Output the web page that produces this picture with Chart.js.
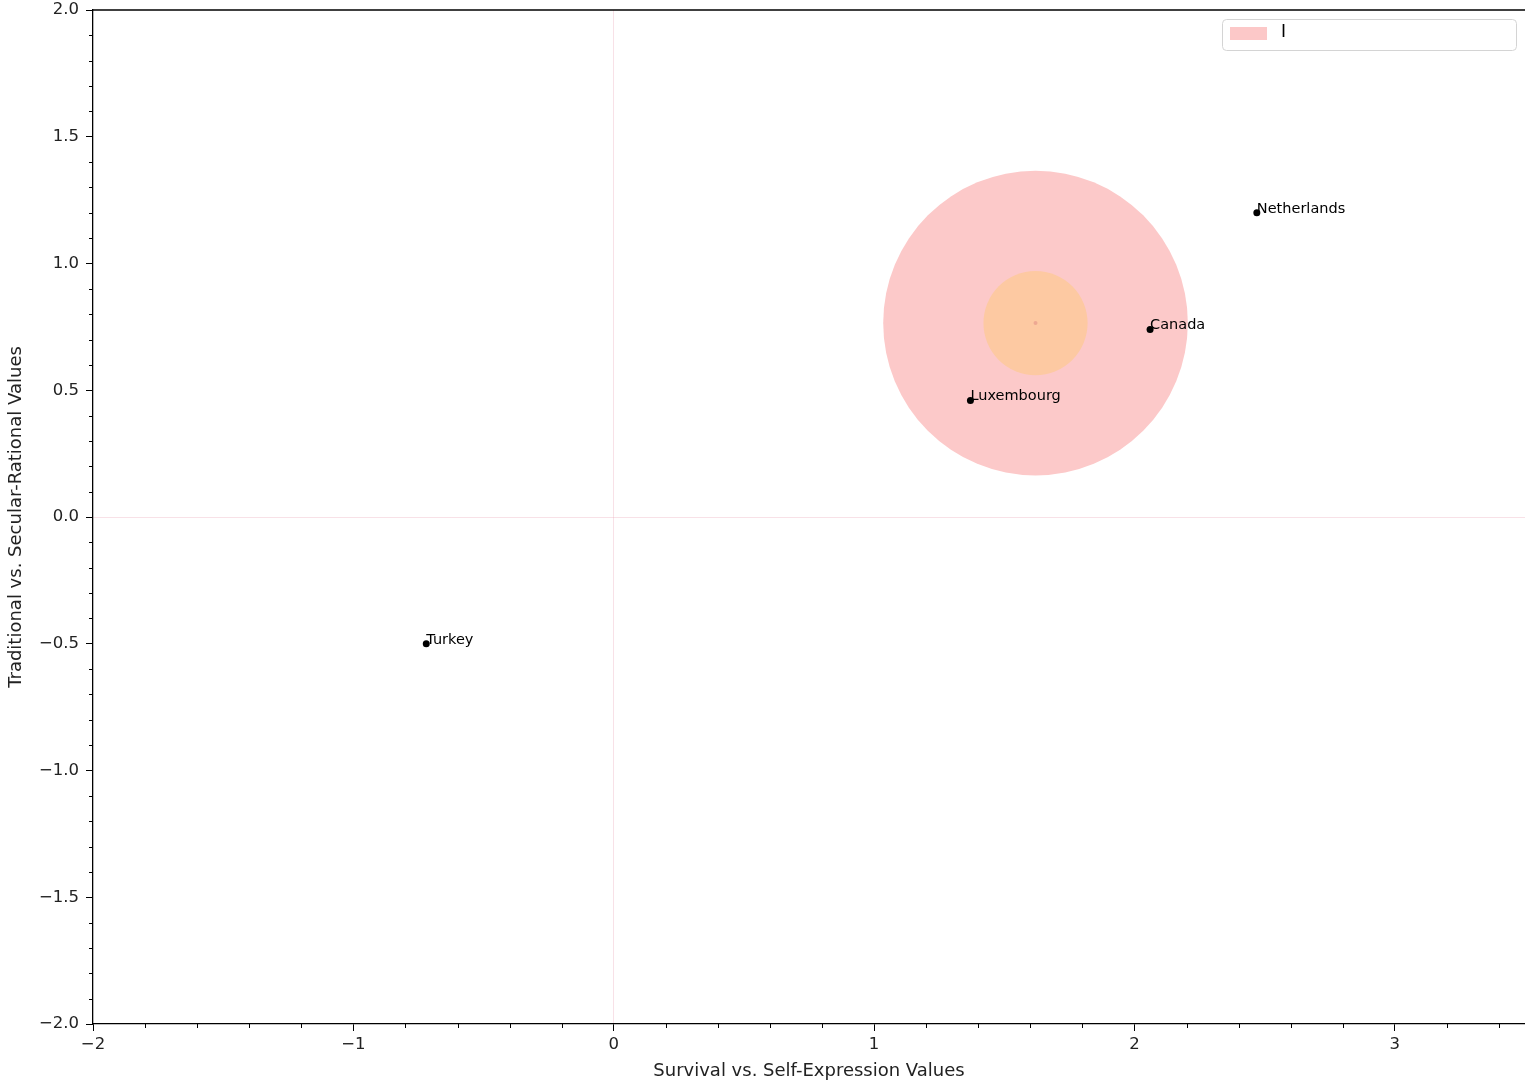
<!DOCTYPE html>
<html>
<head>
<meta charset="utf-8">
<script src="https://cdn.jsdelivr.net/npm/chart.js@4.4.1/dist/chart.umd.min.js"></script>
<style>
  html, body { margin: 0; padding: 0; background: #fff; overflow: hidden; }
  canvas { display: block; }
</style>
</head>
<body>
<canvas id="chart" width="1525" height="1088"></canvas>
<script>
// countries and their positions on the map
const countries = ['Netherlands', 'Canada', 'Luxembourg', 'Turkey'];
const survivalSelf = [2.47, 2.06, 1.37, -0.72];
const tradSecular = [1.20, 0.74, 0.46, -0.50];

// cluster circle: centre and radii (data units)
const clusterCentre = [1.62, 0.765];
const clusterRadii = [0.585, 0.2];
const clusterLabel = 'I';

const xTicks = [-2, -1, 0, 1, 2, 3];
const yTicks = [-2.0, -1.5, -1.0, -0.5, 0.0, 0.5, 1.0, 1.5, 2.0];

const FONT = "'DejaVu Sans', sans-serif";
const minus = v => (v < 0 ? '\u2212' : '') + Math.abs(v);

function radiusFor(r) {
    return ctx => {
        const xs = ctx.chart.scales.x;
        if (!xs) return 0;
        return Math.abs(xs.getPixelForValue(clusterCentre[0] + r) - xs.getPixelForValue(clusterCentre[0]));
    };
}

const extras = {
    id: 'extras',
    afterDatasetsDraw(chart) {
        const c = chart.ctx, xs = chart.scales.x, ys = chart.scales.y;
        c.save();
        // country names
        c.fillStyle = '#000';
        c.font = '14.5px ' + FONT;
        c.textAlign = 'left';
        c.textBaseline = 'alphabetic';
        countries.forEach((n, i) => {
            c.fillText(n, xs.getPixelForValue(survivalSelf[i]), ys.getPixelForValue(tradSecular[i]));
        });
        c.restore();
    },
    afterDraw(chart) {
        const c = chart.ctx, xs = chart.scales.x, ys = chart.scales.y, a = chart.chartArea;
        c.save();
        c.strokeStyle = '#000';
        c.lineWidth = 1;
        // minor ticks
        c.beginPath();
        for (let k = 0; k <= 27; k++) {
            const v = -2 + k * 0.2;
            if (Math.abs(v - Math.round(v)) < 1e-6) continue;
            const px = Math.round(xs.getPixelForValue(v)) + 0.5;
            c.moveTo(px, a.bottom); c.lineTo(px, a.bottom + 4);
        }
        for (let k = 0; k <= 40; k++) {
            const v = -2 + k * 0.1;
            if (Math.abs(v * 2 - Math.round(v * 2)) < 1e-6) continue;
            const py = Math.round(ys.getPixelForValue(v)) + 0.5;
            c.moveTo(a.left, py); c.lineTo(a.left - 4, py);
        }
        c.stroke();
        // top spine
        c.lineWidth = 1.3;
        c.beginPath();
        c.moveTo(a.left, a.top); c.lineTo(a.right, a.top);
        c.stroke();
        // legend
        const lx = a.right - 303, ly = a.top + 9, lw = 294, lh = 31;
        c.fillStyle = 'rgba(255,255,255,0.8)';
        c.strokeStyle = '#d4d4d4';
        c.lineWidth = 1;
        c.beginPath();
        c.roundRect(lx + 0.5, ly + 0.5, lw, lh, 4);
        c.fill(); c.stroke();
        c.fillStyle = '#fcc8c8';
        c.fillRect(lx + 8, ly + 8, 37, 13);
        c.fillStyle = '#000';
        c.font = '17px ' + FONT;
        c.textBaseline = 'middle';
        c.fillText(clusterLabel, lx + 59, ly + 14);
        c.restore();
    }
};

const zeroLine = ctx => (ctx.tick && ctx.tick.value === 0) ? 'rgba(235,170,185,0.35)' : 'rgba(0,0,0,0)';

new Chart(document.getElementById('chart'), {
    type: 'scatter',
    data: {
        datasets: [
            {
                label: 'countries',
                data: countries.map((n, i) => ({ x: survivalSelf[i], y: tradSecular[i] })),
                backgroundColor: '#000',
                borderWidth: 0,
                pointRadius: 3.5,
                order: 0
            },
            {
                label: 'centre',
                data: [{ x: clusterCentre[0], y: clusterCentre[1] }],
                backgroundColor: '#eda892',
                borderWidth: 0,
                pointRadius: 2,
                order: 1
            },
            {
                label: 'inner',
                data: [{ x: clusterCentre[0], y: clusterCentre[1] }],
                backgroundColor: '#fdc9a2',
                borderWidth: 0,
                pointRadius: radiusFor(clusterRadii[1]),
                order: 2
            },
            {
                label: clusterLabel,
                data: [{ x: clusterCentre[0], y: clusterCentre[1] }],
                backgroundColor: '#fcc9c9',
                borderWidth: 0,
                pointRadius: radiusFor(clusterRadii[0]),
                order: 3
            }
        ]
    },
    options: {
        responsive: false,
        animation: false,
        events: [],
        layout: { autoPadding: false, padding: { top: 10, right: 0, left: 0, bottom: 0 } },
        plugins: { legend: { display: false }, tooltip: { enabled: false } },
        scales: {
            x: {
                type: 'linear',
                min: -2, max: 3.5,
                afterFit: s => { s.height = 64; s.paddingLeft = 0; s.paddingRight = 0; },
                afterBuildTicks: s => { s.ticks = xTicks.map(v => ({ value: v })); },
                ticks: {
                    color: '#222',
                    font: { family: FONT, size: 16.5 },
                    padding: 4,
                    maxRotation: 0,
                    callback: v => minus(v)
                },
                grid: { color: zeroLine, lineWidth: 1, tickColor: '#000', tickLength: 7, tickWidth: 1 },
                border: { color: '#000', width: 1.3 },
                title: {
                    display: true,
                    text: 'Survival vs. Self-Expression Values',
                    color: '#222',
                    font: { family: FONT, size: 18 },
                    padding: { top: 0, bottom: 6 }
                }
            },
            y: {
                type: 'linear',
                min: -2, max: 2,
                afterFit: s => { s.width = 93; s.paddingTop = 0; s.paddingBottom = 0; },
                afterBuildTicks: s => { s.ticks = yTicks.map(v => ({ value: v })); },
                ticks: {
                    color: '#222',
                    font: { family: FONT, size: 16.5 },
                    padding: 7,
                    callback: v => (v < 0 ? '\u2212' : '') + Math.abs(v).toFixed(1)
                },
                grid: { color: zeroLine, lineWidth: 1, tickColor: '#000', tickLength: 7, tickWidth: 1 },
                border: { color: '#000', width: 1.3 },
                title: {
                    display: true,
                    text: 'Traditional vs. Secular-Rational Values',
                    color: '#222',
                    font: { family: FONT, size: 18 },
                    padding: { top: 6, bottom: 0 }
                }
            }
        }
    },
    plugins: [extras]
});
</script>
</body>
</html>
